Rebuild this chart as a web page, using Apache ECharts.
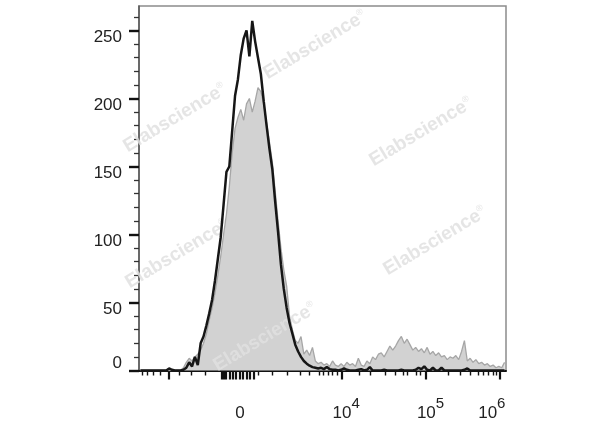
<!DOCTYPE html>
<html><head><meta charset="utf-8">
<script src="https://cdn.jsdelivr.net/npm/echarts@6/dist/echarts.min.js"></script>
<style>html,body{margin:0;padding:0;background:#fff}#c{width:600px;height:427px}</style>
</head><body><div id="c"></div>
<script>
// Histogram bins on a 0..1024 display-channel scale, 8 channels per bin
const channelMax = 1024;
const binWidth = 8;

// Gray filled histogram (control)
const grayCounts = [
  0,0,0,0,0,0,0,0,0,0,
  0,0,0,0,0,2,6,9,7,10,
  12,15,20,27,37,46,57,70,84,100,
  115,135,160,178,186,192,184,196,200,190,
  198,208,205,196,182,168,153,132,110,90,
  74,62,40,30,22,20,25,12,15,11,
  17,7,5,6,4,5,3,7,4,3,
  5,3,6,4,5,3,9,4,3,7,
  5,10,8,12,13,10,14,18,15,18,
  22,25,20,23,19,15,17,14,16,13,
  17,12,14,11,13,10,11,8,10,9,
  11,8,14,22,7,9,6,8,5,6,
  4,5,3,4,2,3,2,6
];

// Black outline histogram (sample)
const blackCounts = [
  0,0,0,0,0,0,0,0,0,0,
  1.5,0.5,0,0,0,0.5,2,6,3,10,
  4,20,25,33,42,52,66,82,98,122,
  146,150,176,202,214,232,244,250,231,257,
  242,230,218,198,180,163,148,124,102,78,
  60,46,35,27,19,14,10,7,5,3.5,
  2.5,2,1.5,2,1,2.5,1,0.5,0.5,0,
  0.5,1.5,0.5,0,0,0,0.5,1,0,0.5,
  2.5,0,0,0,0,0.5,0,0,0,0,
  0,0.5,0,0,0,0,0.5,2,1,3,
  0.5,0,2,0,0,2,0,0,0,0,
  0,0,0,0.5,1.5,0,0,0,0,0,
  0,0,0,0,0,0,0,0
];

// Axis decorations (display-channel positions)
const xLabelValues = [281.8, 565.6, 800.8, 1005.3];
const xLabelBases = ['0', '10', '10', '10'];
const xLabelExps = ['', '4', '5', '6'];
const xMajorTicks = [81.8, 231.6, 237.2, 242.7, 253.9, 262.3, 270.6, 281.8, 290.2, 301.3, 309.7, 318.9, 565.6, 800.8, 1005.3];
const xMinorTicks = [9.2, 22.3, 39.9, 60.0, 113.0, 145.1, 184.2, 332.0, 373.0, 413.0, 450.6, 474.4, 502.3, 514.2, 528.2, 539.3, 553.3, 613.8, 644.5, 686.4, 714.3, 737.4, 748.6, 774.8, 784.0, 863.0, 895.6, 923.5, 946.7, 960.6, 974.6, 988.5, 998.0];
const yMax = 268;
const yMajorTicks = [0, 50, 100, 150, 200, 250];
const yMinorTicks = [10,20,30,40,60,70,80,90,110,120,130,140,160,170,180,190,210,220,230,240,260];
const watermarkText = 'Elabscience';

const toPairs = arr => arr.map((v, i) => [i * binWidth + binWidth / 2, v]);

const chart = echarts.init(document.getElementById('c'), null, {renderer: 'canvas'});
const FONT = '"Liberation Sans", Arial, Helvetica, sans-serif';

const wmPos = [[315,45],[175,118],[421,132],[435,241],[177,254],[265,337]];

chart.setOption({
  animation: false,
  backgroundColor: '#fff',
  grid: {left: 139, top: 6, width: 367, height: 364.5, show: true, borderColor: '#8c8c8c', borderWidth: 1.5, backgroundColor: 'transparent'},
  xAxis: [
    {
      type: 'value', min: 0, max: channelMax, position: 'bottom',
      axisLine: {show: true, onZero: false, lineStyle: {color: '#111', width: 2}},
      splitLine: {show: false},
      axisTick: {show: true, customValues: xMajorTicks, length: 9, lineStyle: {color: '#111', width: 2.2}},
      axisLabel: {
        show: true, customValues: xLabelValues, margin: 26,
        formatter: function (v) {
          let k = -1, best = 1e9;
          xLabelValues.forEach((u, j) => { if (Math.abs(u - v) < best) { best = Math.abs(u - v); k = j; } });
          if (!xLabelExps[k]) return '{z|' + xLabelBases[k] + '}';
          if (k === xLabelValues.length - 1) return '{c|' + xLabelBases[k] + '}{e|' + xLabelExps[k] + '}{r| }';
          return '{b|' + xLabelBases[k] + '}{e|' + xLabelExps[k] + '}';
        },
        rich: {
          z: {fontSize: 17, fontFamily: FONT, color: '#222', padding: [8.5, 0, 0, 0]},
          b: {fontSize: 17, fontFamily: FONT, color: '#222', padding: [8.5, 0, 0, 9]},
          c: {fontSize: 17, fontFamily: FONT, color: '#222', padding: [8.5, 0, 0, 0]},
          e: {fontSize: 15, fontFamily: FONT, color: '#222', verticalAlign: 'top'},
          r: {fontSize: 14, width: 15}
        }
      }
    },
    {
      type: 'value', min: 0, max: channelMax, position: 'bottom',
      axisLine: {show: false}, splitLine: {show: false}, axisLabel: {show: false},
      axisTick: {show: true, customValues: xMinorTicks, length: 5, lineStyle: {color: '#111', width: 1.4}}
    }
  ],
  yAxis: [
    {
      type: 'value', min: 0, max: yMax, position: 'left',
      axisLine: {show: true, lineStyle: {color: '#555', width: 1.5}},
      splitLine: {show: false},
      axisTick: {show: true, customValues: yMajorTicks, length: 10, lineStyle: {color: '#111', width: 2.4}},
      axisLabel: {show: true, customValues: yMajorTicks.filter(v => v > 0), margin: 17, verticalAlign: 'top', lineHeight: 14,
        fontSize: 17, fontFamily: FONT, color: '#222'}
    },
    {
      type: 'value', min: 0, max: yMax, position: 'left',
      axisLine: {show: false}, splitLine: {show: false},
      axisTick: {show: true, customValues: yMinorTicks, length: 5, lineStyle: {color: '#333', width: 1.3}},
      axisLabel: {show: true, customValues: [0], margin: 17, verticalAlign: 'bottom', lineHeight: 14,
        fontSize: 17, fontFamily: FONT, color: '#222'}
    }
  ],
  graphic: {
    elements: wmPos.map(p => ({
      type: 'text', x: p[0], y: p[1], rotation: 0.54, z: 3, silent: true,
      style: {
        text: '{a|' + watermarkText + '}{r|®}', align: 'center', verticalAlign: 'middle',
        rich: {
          a: {fontSize: 19, fontWeight: 'bold', fontFamily: FONT, fill: 'rgba(224,224,224,0.85)', color: 'rgba(224,224,224,0.85)'},
          r: {fontSize: 9, fontFamily: FONT, verticalAlign: 'top', fill: 'rgba(224,224,224,0.85)', color: 'rgba(224,224,224,0.85)'}
        }
      }
    }))
  },
  series: [
    {
      type: 'line', name: 'control', xAxisIndex: 0, yAxisIndex: 0, data: toPairs(grayCounts),
      symbol: 'none', smooth: false, z: 2,
      lineStyle: {color: '#a6a6a6', width: 1.3},
      areaStyle: {color: '#d2d2d2', opacity: 1}
    },
    {
      type: 'line', name: 'sample', xAxisIndex: 0, yAxisIndex: 0, data: toPairs(blackCounts),
      symbol: 'none', smooth: false, z: 5,
      lineStyle: {color: '#161616', width: 2.5}
    }
  ]
});
</script></body></html>
